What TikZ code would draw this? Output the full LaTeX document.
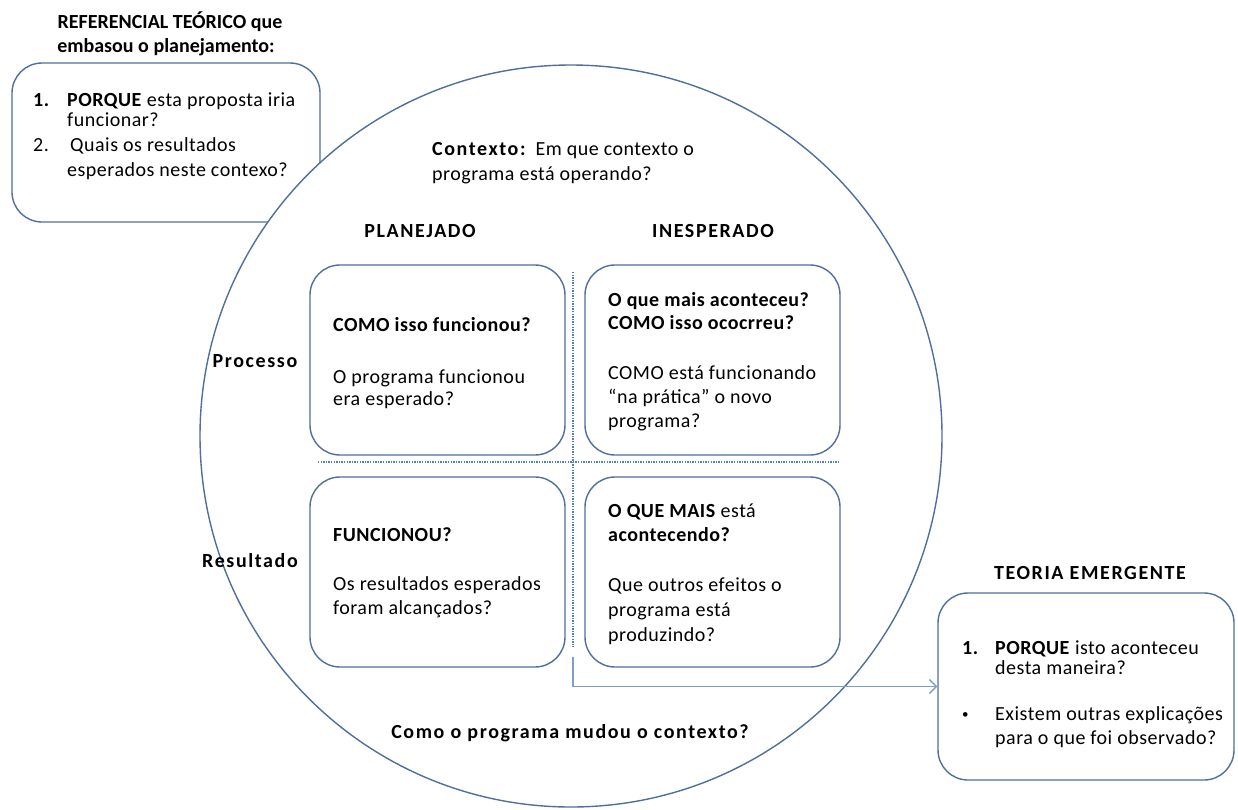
\documentclass[tikz,border=0pt]{standalone}
\usepackage{fontspec}
\setmainfont{Carlito}[LetterSpace=2.5,BoldFeatures={LetterSpace=2.5}]
\newfontfamily\widefont{Carlito}[LetterSpace=8,BoldFeatures={LetterSpace=8}]
\newfontfamily\tightfont{Carlito}[LetterSpace=0,BoldFeatures={LetterSpace=0}]
\usetikzlibrary{arrows.meta}
\definecolor{edge}{HTML}{4F6F9E}
\definecolor{dotc}{HTML}{4F81BD}
\definecolor{arr}{HTML}{7F9DC6}
\newcommand{\widebf}{\widefont\bfseries}
\begin{document}
\begin{tikzpicture}[x=1pt,y=-1pt,
  box/.style={draw=edge, line width=1.4pt, rounded corners=30pt, fill=white, inner sep=0pt},
  txt/.style={anchor=base west, inner sep=0pt, font=\fontsize{20}{24}\selectfont},
  bt/.style={anchor=base west, inner sep=0pt, font=\fontsize{20}{24}\selectfont\bfseries},
  ct/.style={anchor=base, inner sep=0pt, font=\fontsize{20}{24}\selectfont\widebf},
  ht/.style={anchor=base, inner sep=0pt, font=\fontsize{20}{24}\selectfont\tightfont\bfseries},
  dotline/.style={draw=dotc, line width=1.3pt, dash pattern=on 1.3pt off 1.3pt}]
\useasboundingbox (0,0) rectangle (1238,809);

% left box (under circle)
\node[box, minimum width=308, minimum height=159] (ref) at (166,142.5) {};
% big circle
\node[draw=edge, line width=1.4pt, fill=white, circle, minimum size=742, inner sep=0pt] (circ) at (571,436) {};

% quadrant boxes
\node[box, minimum width=255, minimum height=190] (pp) at (437.5,360) {};
\node[box, minimum width=255, minimum height=190] (ip) at (712.5,360) {};
\node[box, minimum width=255, minimum height=190] (pr) at (437.5,572) {};
\node[box, minimum width=255, minimum height=190] (ir) at (712.5,572) {};
% right box
\node[box, minimum width=296, minimum height=187] (teo) at (1086,686.5) {};

% dotted separators
\coordinate (vtop) at (573,272);
\coordinate (vbot) at (573,647);
\coordinate (hl) at (318,462);
\coordinate (hr) at (840,462);
\draw[dotline] (vtop) -- (vbot);
\draw[dotline] (hl) -- (hr);

% arrow
\coordinate (astart) at (573,657);
\draw[draw=arr, line width=1.3pt, -{Straight Barb[length=7pt,width=14pt]}] (astart) |- (teo.west);

% headings top-left
\node[ht] (h1) at (170,28) {REFERENCIAL TEÓRICO que};
\node[ht] (h2) at (166,52) {embasou o planejamento:};
% left box text
\node[bt] (l1n) at (33,106) {1.};
\node[txt] (l1) at (67,106) {\textbf{PORQUE} esta proposta iria};
\node[txt] (l1b) at (67,126) {funcionar?};
\node[txt] (l2n) at (33,151) {2.};
\node[txt] (l2) at (70,151) {Quais os resultados};
\node[txt] (l2b) at (67,176) {esperados neste contexo?};

% context
\node[txt] (c1) at (432,155) {{\widebf Contexto:}\ \ Em que contexto o};
\node[txt] (c2) at (432,180) {programa está operando?};

% column / row headers
\node[ct] (colp) at (420,237) {PLANEJADO};
\node[ct] (coli) at (713,237) {INESPERADO};
\node[ct] (rowp) at (255,367) {Processo};
\node[ct] (rowr) at (250,567) {Resultado};

% box pp
\node[bt] (pp1) at (333,331) {COMO isso funcionou?};
\node[txt] (pp2) at (333,383) {O programa funcionou};
\node[txt] (pp3) at (333,405) {era esperado?};

% box ip
\node[bt] (ip1) at (608,306) {O que mais aconteceu?};
\node[bt] (ip2) at (608,329) {COMO isso ococrreu?};
\node[txt] (ip3) at (608,379) {COMO está funcionando};
\node[txt] (ip4) at (608,403) {“na prática” o novo};
\node[txt] (ip5) at (608,427) {programa?};

% box pr
\node[bt] (pr1) at (333,541) {FUNCIONOU?};
\node[txt] (pr2) at (333,590) {Os resultados esperados};
\node[txt] (pr3) at (333,614) {foram alcançados?};

% box ir
\node[bt] (ir1) at (608,517) {O QUE MAIS \textmd{está}};
\node[bt] (ir2) at (608,541) {acontecendo?};
\node[txt] (ir3) at (608,591) {Que outros efeitos o};
\node[txt] (ir4) at (608,616) {programa está};
\node[txt] (ir5) at (608,641) {produzindo?};

% bottom question
\node[ct] (bq) at (570,738) {Como o programa mudou o contexto?};

% right side
\node[ct] (th) at (1090,579) {TEORIA EMERGENTE};
\node[bt] (r1n) at (962,654) {1.};
\node[txt] (r1) at (995,654) {\textbf{PORQUE} isto aconteceu};
\node[txt] (r1b) at (995,674) {desta maneira?};
\node[txt] (r2n) at (962,718) {\fontsize{13}{13}\selectfont •};
\node[txt] (r2) at (995,720) {Existem outras explicações};
\node[txt] (r2b) at (995,744) {para o que foi observado?};
\end{tikzpicture}
\end{document}
